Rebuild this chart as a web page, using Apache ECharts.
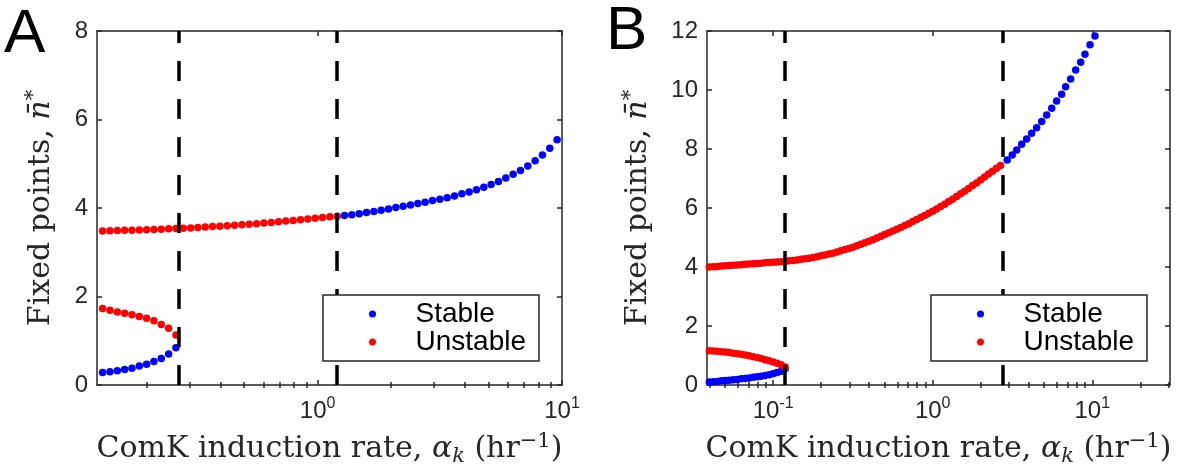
<!DOCTYPE html>
<html>
<head>
<meta charset="utf-8">
<script src="https://cdn.jsdelivr.net/npm/echarts@6/dist/echarts.min.js"></script>
<style>
  html, body { margin: 0; background: #fff; }
  #chart { width: 1183px; height: 475px; }
</style>
</head>
<body>
<div id="chart"></div>
<script>
// ---- panel A ----
const aRange = [0.125, 10];
const aYMax = 8;
const aFolds = [0.269, 1.2];
const aTickLabels = [1, 10];
const aMinorTicks = [0.2, 0.3, 0.4, 0.5, 0.6, 0.7, 0.8, 0.9, 2, 3, 4, 5, 6, 7, 8, 9];

const aLowAlpha = [0.1318, 0.1413, 0.1514, 0.1622, 0.1738, 0.1862, 0.1995, 0.2138, 0.2291, 0.2455, 0.2630];
const aLowStable = [0.28, 0.30, 0.32, 0.35, 0.38, 0.43, 0.47, 0.53, 0.60, 0.70, 0.84];
const aLowUnstable = [1.73, 1.69, 1.65, 1.62, 1.59, 1.55, 1.51, 1.45, 1.37, 1.28, 1.13];

const aMidAlpha = [0.1318, 0.1413, 0.1514, 0.1622, 0.1738, 0.1862, 0.1995, 0.2138, 0.2291, 0.2455,
  0.2630, 0.2818, 0.3020, 0.3236, 0.3467, 0.3715, 0.3981, 0.4266, 0.4571, 0.4898,
  0.5248, 0.5623, 0.6026, 0.6457, 0.6918, 0.7413, 0.7943, 0.8511, 0.9120, 0.9772,
  1.0471, 1.1220, 1.2023];
const aMidUnstable = [3.48, 3.485, 3.49, 3.495, 3.50, 3.505, 3.51, 3.515, 3.52, 3.53,
  3.535, 3.545, 3.55, 3.56, 3.57, 3.58, 3.59, 3.60, 3.61, 3.62,
  3.63, 3.645, 3.66, 3.675, 3.69, 3.705, 3.72, 3.735, 3.75, 3.77,
  3.785, 3.80, 3.815];

const aHighAlpha = [1.2882, 1.3804, 1.4791, 1.5849, 1.6982, 1.8197, 1.9498, 2.0893, 2.2387, 2.3988,
  2.5704, 2.7542, 2.9512, 3.1623, 3.3884, 3.6308, 3.8905, 4.1687, 4.4668, 4.7863,
  5.1286, 5.4954, 5.8884, 6.3096, 6.7608, 7.2444, 7.7625, 8.3176, 8.9125, 9.5499];
const aHighStable = [3.83, 3.85, 3.87, 3.90, 3.92, 3.95, 3.98, 4.01, 4.04, 4.07,
  4.10, 4.13, 4.17, 4.20, 4.23, 4.27, 4.32, 4.36, 4.41, 4.47,
  4.53, 4.60, 4.68, 4.76, 4.85, 4.95, 5.07, 5.20, 5.35, 5.54];

// ---- panel B ----
const bRange = [0.0385, 30.7];
const bYMax = 12;
const bFolds = [0.1175, 2.75];
const bTickLabels = [0.1, 1, 10];
const bMinorTicks = [0.04, 0.05, 0.06, 0.07, 0.08, 0.09, 0.2, 0.3, 0.4, 0.5, 0.6, 0.7, 0.8, 0.9,
  2, 3, 4, 5, 6, 7, 8, 9, 20, 30];

const bLowAlpha = [0.03981, 0.04217, 0.04467, 0.04732, 0.05012, 0.05309, 0.05623, 0.05957, 0.06310, 0.06683,
  0.07079, 0.07499, 0.07943, 0.08414, 0.08913, 0.09441, 0.1000, 0.1059, 0.1122, 0.1189];
const bLowStable = [0.10, 0.11, 0.12, 0.14, 0.15, 0.16, 0.18, 0.19, 0.21, 0.22,
  0.24, 0.26, 0.28, 0.30, 0.32, 0.35, 0.38, 0.42, 0.47, 0.55];
const bLowUnstable = [1.16, 1.15, 1.14, 1.13, 1.12, 1.10, 1.08, 1.06, 1.04, 1.02,
  0.99, 0.96, 0.93, 0.90, 0.86, 0.82, 0.78, 0.74, 0.69, 0.61];

const bMidAlpha = [0.03981, 0.04217, 0.04467, 0.04732, 0.05012, 0.05309, 0.05623, 0.05957, 0.06310, 0.06683,
  0.07079, 0.07499, 0.07943, 0.08414, 0.08913, 0.09441, 0.1000, 0.1059, 0.1122, 0.1189,
  0.1259, 0.1334, 0.1413, 0.1496, 0.1585, 0.1679, 0.1778, 0.1884, 0.1995, 0.2113,
  0.2239, 0.2371, 0.2512, 0.2661, 0.2818, 0.2985, 0.3162, 0.3350, 0.3548, 0.3758,
  0.3981, 0.4217, 0.4467, 0.4732, 0.5012, 0.5309, 0.5623, 0.5957, 0.6310, 0.6683,
  0.7079, 0.7499, 0.7943, 0.8414, 0.8913, 0.9441, 1.000, 1.059, 1.122, 1.189,
  1.259, 1.334, 1.413, 1.496, 1.585, 1.679, 1.778, 1.884, 1.995, 2.113,
  2.239, 2.371, 2.512, 2.661];
const bMidUnstable = [4.00, 4.01, 4.02, 4.03, 4.04, 4.05, 4.06, 4.07, 4.08, 4.09,
  4.10, 4.11, 4.12, 4.13, 4.14, 4.15, 4.16, 4.17, 4.18, 4.19,
  4.21, 4.22, 4.24, 4.26, 4.28, 4.30, 4.32, 4.35, 4.38, 4.41,
  4.44, 4.47, 4.51, 4.55, 4.59, 4.63, 4.67, 4.72, 4.77, 4.82,
  4.87, 4.92, 4.98, 5.04, 5.10, 5.16, 5.22, 5.28, 5.34, 5.41,
  5.47, 5.54, 5.61, 5.68, 5.75, 5.82, 5.89, 5.97, 6.05, 6.13,
  6.22, 6.30, 6.39, 6.48, 6.57, 6.66, 6.76, 6.85, 6.95, 7.05,
  7.15, 7.25, 7.35, 7.44];

const bHighAlpha = [2.93, 3.15, 3.36, 3.61, 3.88, 4.17, 4.48, 4.82, 5.18, 5.57,
  5.98, 6.43, 6.81, 7.32, 7.87, 8.46, 9.00, 9.68, 10.4];
const bHighStable = [7.63, 7.80, 7.97, 8.16, 8.34, 8.53, 8.72, 8.93, 9.15, 9.38,
  9.63, 9.86, 10.11, 10.37, 10.68, 10.94, 11.21, 11.53, 11.83];

// ---- styling ----
const sans = '"Liberation Sans", Arial, Helvetica, sans-serif';
const serif = '"DejaVu Serif", serif';
const ink = '#262626';
const blue = '#0000ff';
const red = '#ff0000';

const pairs = (xs, ys) => xs.map((x, i) => [x, ys[i]]);

const xName = 'ComK induction rate, {it|\u03b1}{sub|k} (hr{sup|\u22121})';
const yName = 'Fixed points, {it|n\u0304}{sup|*}';

const nameStyle = {
  fontFamily: serif, fontSize: 30, color: ink,
  rich: {
    it: { fontFamily: serif, fontStyle: 'italic', fontSize: 30, color: ink },
    sub: { fontFamily: serif, fontStyle: 'italic', fontSize: 21, color: ink, padding: [14, 0, 0, 0] },
    sup: { fontFamily: serif, fontSize: 21, color: ink, padding: [0, 0, 16, 0] }
  }
};

const lineStyle = { color: ink, width: 1.5 };

function xAxes(grid, range, labels, minor) {
  const base = {
    gridIndex: grid, type: 'log', logBase: 10, min: range[0], max: range[1],
    splitLine: { show: false }, axisPointer: { show: false }
  };
  return [
    {
      ...base, position: 'bottom',
      axisLine: { show: true, onZero: false, lineStyle },
      axisTick: { show: true, inside: true, length: 5, customValues: labels, lineStyle },
      axisLabel: {
        show: true, customValues: labels, margin: 11,
        fontFamily: sans, fontSize: 24, color: ink,
        formatter: v => '10{sup|' + Math.round(Math.log10(v)) + '}',
        rich: { sup: { fontFamily: sans, fontSize: 16, color: ink, padding: [0, 0, 14, 0] } }
      },
      name: xName, nameLocation: 'middle', nameGap: 46, nameTextStyle: nameStyle
    },
    {
      ...base, position: 'top',
      axisLine: { show: true, onZero: false, lineStyle },
      axisTick: { show: true, inside: true, length: 5, customValues: labels, lineStyle },
      axisLabel: { show: false }
    },
    {
      ...base, position: 'bottom',
      axisLine: { show: false },
      axisTick: { show: true, inside: true, length: 3, customValues: minor, lineStyle },
      axisLabel: { show: false }
    },
    {
      ...base, position: 'top',
      axisLine: { show: false },
      axisTick: { show: true, inside: true, length: 3, customValues: minor, lineStyle },
      axisLabel: { show: false }
    }
  ];
}

function yAxes(grid, yMax, gap) {
  const base = {
    gridIndex: grid, type: 'value', min: 0, max: yMax, interval: 2,
    splitLine: { show: false }, axisPointer: { show: false },
    axisLine: { show: true, onZero: false, lineStyle },
    axisTick: { show: true, inside: true, length: 5, lineStyle }
  };
  return [
    {
      ...base, position: 'left',
      axisLabel: { show: true, margin: 9, fontFamily: sans, fontSize: 24, color: ink },
      name: yName, nameLocation: 'middle', nameGap: gap, nameTextStyle: nameStyle
    },
    { ...base, position: 'right', axisLabel: { show: false } }
  ];
}

function panelSeries(xIndex, yIndex, stable, unstable, folds, yMax) {
  const dot = { type: 'scatter', xAxisIndex: xIndex, yAxisIndex: yIndex, symbolSize: 7.5, silent: true };
  return [
    { ...dot, name: 'Stable', data: stable, itemStyle: { color: blue, opacity: 1 } },
    {
      ...dot, name: 'Unstable', data: unstable, itemStyle: { color: red, opacity: 1 },
      markLine: {
        silent: true, symbol: ['none', 'none'], label: { show: false },
        lineStyle: { color: '#000', width: 3.5, type: [20, 18], opacity: 1 },
        emphasis: { disabled: true },
        data: folds.map(x => [{ coord: [x, 0] }, { coord: [x, yMax] }])
      }
    }
  ];
}

function legendAt(left) {
  return {
    left, top: 295, orient: 'vertical', z: 20, selectedMode: false,
    backgroundColor: '#fff', borderColor: ink, borderWidth: 1.5, borderRadius: 0,
    padding: [5, 13, 5, 46], itemGap: 0, itemWidth: 76, itemHeight: 7,
    textStyle: { fontFamily: sans, fontSize: 28, color: '#000' },
    itemStyle: { opacity: 1 },
    data: [{ name: 'Stable', icon: 'circle' }, { name: 'Unstable', icon: 'circle' }]
  };
}

const chart = echarts.init(document.getElementById('chart'), null, { renderer: 'canvas' });

chart.setOption({
  animation: false,
  backgroundColor: '#fff',
  grid: [
    { left: 97, right: 621, top: 31, bottom: 90, containLabel: false, outerBoundsMode: 'none' },
    { left: 707, right: 13, top: 31, bottom: 90, containLabel: false, outerBoundsMode: 'none' }
  ],
  xAxis: [
    ...xAxes(0, aRange, aTickLabels, aMinorTicks),
    ...xAxes(1, bRange, bTickLabels, bMinorTicks)
  ],
  yAxis: [
    ...yAxes(0, aYMax, 37),
    ...yAxes(1, bYMax, 50)
  ],
  legend: [legendAt(323), legendAt(931)],
  graphic: [
    { type: 'text', left: 4, top: 4, style: { text: 'A', fontFamily: sans, fontSize: 62, fill: '#000' } },
    { type: 'text', left: 606, top: 1, style: { text: 'B', fontFamily: sans, fontSize: 62, fill: '#000' } }
  ],
  series: [
    ...panelSeries(0, 0,
      [...pairs(aLowAlpha, aLowStable), ...pairs(aHighAlpha, aHighStable)],
      [...pairs(aLowAlpha, aLowUnstable), ...pairs(aMidAlpha, aMidUnstable)],
      aFolds, aYMax),
    ...panelSeries(4, 2,
      [...pairs(bLowAlpha, bLowStable), ...pairs(bHighAlpha, bHighStable)],
      [...pairs(bLowAlpha, bLowUnstable), ...pairs(bMidAlpha, bMidUnstable)],
      bFolds, bYMax)
  ]
});

window.addEventListener('resize', () => chart.resize());
</script>
</body>
</html>
